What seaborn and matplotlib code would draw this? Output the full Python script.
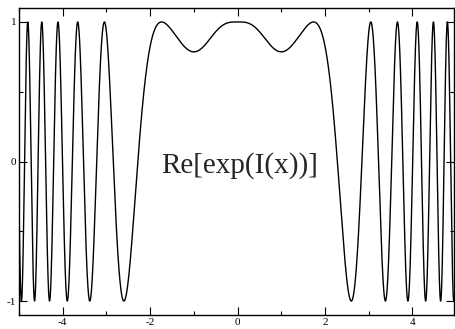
import numpy as np
import pandas as pd
import seaborn as sns
import matplotlib
matplotlib.use("Agg")
import matplotlib.pyplot as plt
from matplotlib.ticker import MultipleLocator

# plotted function: Re[exp(i*I(x))] = cos(I(x)), with the phase I(x) matched to the
# extrema (dip to ~0.79 at |x|=1, peaks at |x|=1.74, -1 at 2.59 ...)
x_range = [-5.0, 4.95]
phase_power = 2.25
phase_coef = [4.52513, -5.35479, 0.4937]
phase_width = 2.5032
label = "Re[exp(I(x))]"
x_ticks = [-4, -2, 0, 2, 4]
y_ticks = [-1, 0, 1]


def phase(x):
    ax = np.abs(x)
    return (phase_coef[0] * ax ** phase_power
            + phase_coef[1] * ax ** 2
            + phase_coef[2] * (1 - np.exp(-ax ** 4 / phase_width)))


x = np.linspace(x_range[0], x_range[1], 4000)
df = pd.DataFrame({"x": x, "y": np.cos(phase(x))})

sns.set_theme(style="ticks")
plt.rcParams["font.family"] = ["Liberation Serif", "DejaVu Serif"]
plt.rcParams["axes.unicode_minus"] = False

fig = plt.figure(figsize=(4.55, 3.29), dpi=100)
ax = fig.add_axes([19 / 455, 14 / 329, 435 / 455, 307 / 329])
sns.lineplot(data=df, x="x", y="y", color="black", linewidth=1.0, ax=ax)

ax.set_xlim(*x_range)
ax.set_ylim(-1.1, 1.1)
ax.set_xlabel("")
ax.set_ylabel("")
ax.set_xticks(x_ticks)
ax.set_yticks(y_ticks)
ax.xaxis.set_minor_locator(MultipleLocator(1))
ax.yaxis.set_minor_locator(MultipleLocator(0.5))
ax.tick_params(which="both", direction="in", top=True, right=True, colors="black",
               labelsize=8, width=0.8)
ax.tick_params(which="major", length=5.5, pad=2)
ax.tick_params(which="minor", length=3)
for sp in ax.spines.values():
    sp.set_visible(True)
    sp.set_color("black")
    sp.set_linewidth(1.0)

ax.text(0.05, -0.03, label, fontsize=21, ha="center", va="center")

fig.savefig("out.png", dpi=100)
